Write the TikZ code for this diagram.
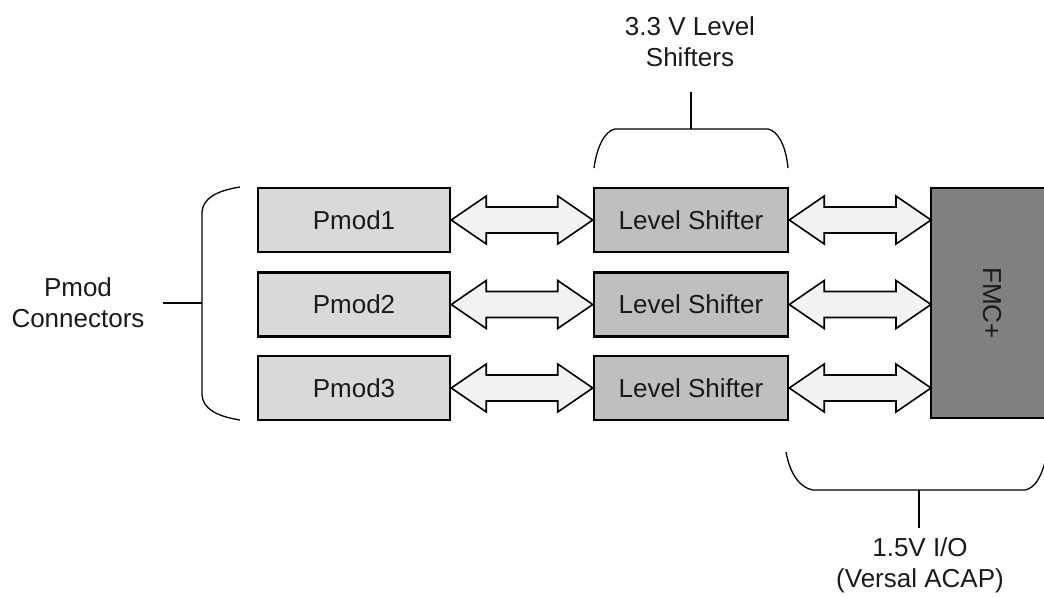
\documentclass[tikz,border=0pt]{standalone}
\usepackage{fontspec}
\setmainfont{Liberation Sans}
\usetikzlibrary{calc}
\definecolor{pmodfill}{HTML}{D9D9D9}
\definecolor{lsfill}{HTML}{BFBFBF}
\definecolor{fmcfill}{HTML}{808080}
\definecolor{arrfill}{HTML}{F2F2F2}
\definecolor{txt}{HTML}{1A1A1A}
\tikzset{
  box/.style={draw=black, line width=2.5pt, minimum width=192pt, minimum height=64pt, inner sep=0pt, text=txt, font=\fontsize{26}{31}\selectfont},
  pmodbox/.style={box, fill=pmodfill},
  lsbox/.style={box, fill=lsfill, minimum width=194pt},
  arr/.style={draw=black, line width=1.6pt, fill=arrfill, line join=miter},
  brace/.style={draw=black, line width=1.3pt},
  stem/.style={draw=black, line width=2pt},
  lbl/.style={align=center, text=txt, font=\fontsize{26}{31}\selectfont, inner sep=0pt}
}
\newcommand\dblarr[2]{%
  \path[arr] let \p1=(#1.east), \p2=(#2.west) in
    (\x1,\y1) -- (\x1+35pt,\y1+24pt) -- (\x1+35pt,\y1+13pt) -- (\x2-35pt,\y1+13pt) -- (\x2-35pt,\y1+24pt)
    -- (\x2,\y1) -- (\x2-35pt,\y1-24pt) -- (\x2-35pt,\y1-13pt) -- (\x1+35pt,\y1-13pt) -- (\x1+35pt,\y1-24pt) -- cycle;}
\begin{document}
\begin{tikzpicture}[x=1pt,y=-1pt]
\useasboundingbox (0,0) rectangle (1044,597);
\begin{scope}
\clip (0,0) rectangle (1044,597);
\node[draw=black, line width=2.5pt, fill=fmcfill, minimum width=117pt, minimum height=230pt, inner sep=0pt] (fmc) at (989.5,303) {};
\node[rotate=-90, text=txt, font=\fontsize{26}{31}\selectfont] (fmct) at (992,303) {FMC+};
\end{scope}
\node[pmodbox] (p1) at (354,220) {Pmod1};
\node[pmodbox] (p2) at (354,304.5) {Pmod2};
\node[pmodbox] (p3) at (354,388) {Pmod3};
\node[lsbox] (l1) at (691,220) {Level Shifter};
\node[lsbox] (l2) at (691,304.5) {Level Shifter};
\node[lsbox] (l3) at (691,388) {Level Shifter};
\coordinate (f1) at (931,220);
\coordinate (f2) at (931,304.5);
\coordinate (f3) at (931,388);
\dblarr{p1}{l1}
\dblarr{p2}{l2}
\dblarr{p3}{l3}
\dblarr{l1}{f1}
\dblarr{l2}{f2}
\dblarr{l3}{f3}
% left brace
\draw[brace] (240,187) .. controls (215,191) and (203,199) .. (202,212) -- (202,395) .. controls (203,408) and (215,416) .. (240,420);
\coordinate (lb) at (202,303);
\node[lbl] (pc) at (78,303) {Pmod\\Connectors};
\draw[stem] (163,303) -- (lb);
% top brace
\draw[brace] (594,168) .. controls (597,146) and (605,131) .. (615,129) -- (768,129) .. controls (778,131) and (786,146) .. (788,168);
\coordinate (tb) at (691,129);
\node[lbl] (tl) at (690,42) {3.3 V Level\\Shifters};
\draw[stem] (691,92) -- (tb);
% bottom brace
\draw[brace] (786,452) .. controls (790,474) and (800,488) .. (813,490) -- (1025,490) .. controls (1035,488) and (1041,477) .. (1045,462);
\coordinate (bb) at (919,490);
\node[lbl] (bl) at (920,565) {1.5V I/O\\(Versal ACAP)};
\draw[stem] (bb) -- (919,528);
\end{tikzpicture}
\end{document}
